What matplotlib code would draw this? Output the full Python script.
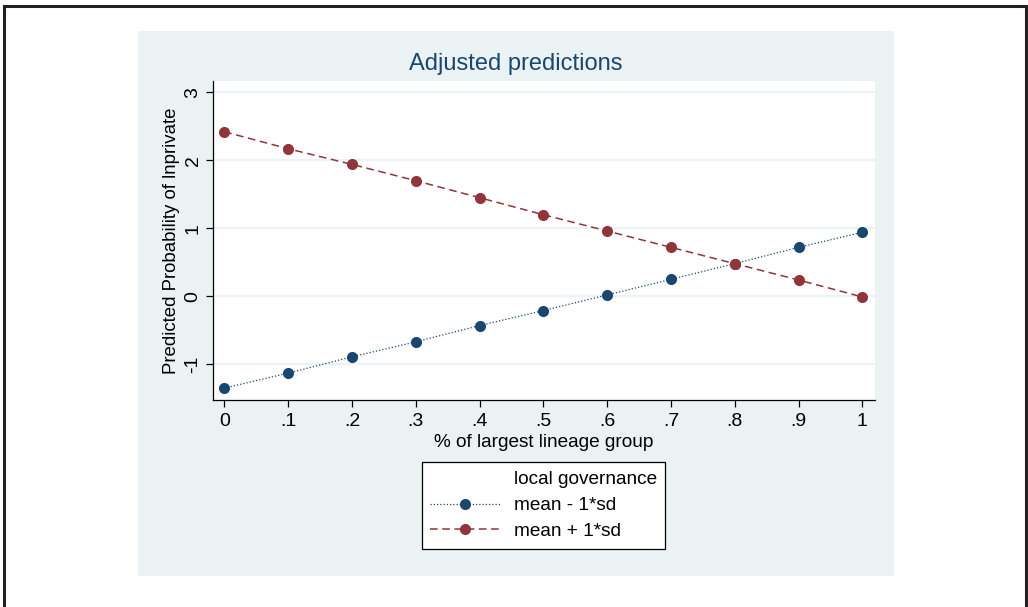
"""Adjusted predictions plot: predicted lnprivate by lineage share, two governance levels."""

import matplotlib

matplotlib.use("Agg")
import matplotlib.pyplot as plt
from matplotlib.lines import Line2D
from matplotlib.patches import Rectangle

plt.rcParams["font.family"] = ["Liberation Sans", "DejaVu Sans"]

NAVY = "#1a476f"
MAROON = "#90353b"
PANEL = "#eaf2f3"

# % of largest lineage group
lineage_share = [0.0, 0.1, 0.2, 0.3, 0.4, 0.5, 0.6, 0.7, 0.8, 0.9, 1.0]
# predictions at local governance = mean - 1*sd
pred_low = [-1.35, -1.13, -0.89, -0.67, -0.43, -0.21, 0.02, 0.25, 0.48, 0.72, 0.94]
# predictions at local governance = mean + 1*sd
pred_high = [2.42, 2.17, 1.94, 1.70, 1.45, 1.20, 0.96, 0.72, 0.48, 0.24, -0.01]

x_ticks = [0, 0.1, 0.2, 0.3, 0.4, 0.5, 0.6, 0.7, 0.8, 0.9, 1.0]
x_ticklabels = ["0", ".1", ".2", ".3", ".4", ".5", ".6", ".7", ".8", ".9", "1"]
y_ticks = [-1, 0, 1, 2, 3]

W, H = 1028, 607
fig = plt.figure(figsize=(W / 100, H / 100), dpi=100)
fig.patch.set_facecolor("white")

# outer frame (left, top, right edges)
for xs, ys in [([4 / W, 4 / W], [0, 1 - 6 / H]),
               ([4 / W, 1026 / W], [1 - 6 / H, 1 - 6 / H]),
               ([1026 / W, 1026 / W], [0, 1 - 6 / H])]:
    fig.add_artist(Line2D(xs, ys, color="#231f20", lw=2.2,
                          transform=fig.transFigure))

# graph region background
fig.add_artist(Rectangle((138 / W, 1 - 576 / H), (894 - 138) / W, (576 - 31) / H,
                         transform=fig.transFigure, facecolor=PANEL,
                         edgecolor="none", zorder=0))

ax = fig.add_axes([212.7 / W, 1 - 400 / H, (875 - 212.7) / W, (400 - 81) / H])
ax.set_facecolor("white")
ax.set_zorder(1)

ax.plot(lineage_share, pred_low, color=NAVY, lw=0.9, linestyle=(0, (1, 1.6)),
        marker="o", markersize=8, markeredgewidth=0, zorder=3)
ax.plot(lineage_share, pred_high, color=MAROON, lw=1.1, linestyle=(0, (5, 3)),
        marker="o", markersize=8, markeredgewidth=0, zorder=3)

ax.set_xlim(-0.0182, 1.0198)
ax.set_ylim(-1.525, 3.166)
ax.set_xticks(x_ticks)
ax.set_xticklabels(x_ticklabels)
ax.set_yticks(y_ticks)
ax.set_yticklabels([str(v) for v in y_ticks], rotation=90, va="center")
ax.grid(True, axis="y", color=PANEL, lw=1.5, zorder=0)
ax.set_axisbelow(True)

for side in ("top", "right"):
    ax.spines[side].set_visible(False)
for side in ("left", "bottom"):
    ax.spines[side].set_color("black")
    ax.spines[side].set_linewidth(0.9)
ax.tick_params(axis="both", direction="out", length=5, width=0.9,
               labelsize=14, color="black")
ax.tick_params(axis="x", pad=4.5)
ax.tick_params(axis="y", pad=3)

ax.set_xlabel("% of largest lineage group", fontsize=13.7, labelpad=3)
ax.set_ylabel("Predicted Probability of lnprivate", fontsize=13.4, labelpad=3)

fig.text(516 / W, 1 - 64 / H, "Adjusted predictions", ha="center", va="center",
         fontsize=17, color=NAVY)

blank = Line2D([], [], linestyle="none")
h_low = Line2D([], [], color=NAVY, lw=0.9, linestyle=(0, (1, 1.6)),
               marker="o", markersize=8, markeredgewidth=0)
h_high = Line2D([], [], color=MAROON, lw=1.1, linestyle=(0, (5, 3)),
                marker="o", markersize=8, markeredgewidth=0)
leg = fig.legend([blank, h_low, h_high],
                 ["local governance", "mean - 1*sd", "mean + 1*sd"],
                 loc="center", bbox_to_anchor=(543.5 / W, 1 - 505.5 / H),
                 bbox_transform=fig.transFigure, fontsize=13.7, frameon=True,
                 fancybox=False, edgecolor="black", framealpha=1,
                 handlelength=3.7, handletextpad=0.7, labelspacing=0.45,
                 borderpad=0.45, borderaxespad=0)
leg.get_frame().set_linewidth(0.9)

fig.savefig("out.png", dpi=100)
